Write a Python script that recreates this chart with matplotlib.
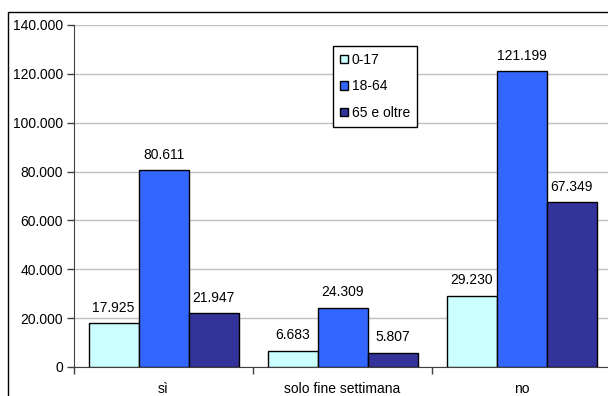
import matplotlib
matplotlib.use("Agg")
import matplotlib.pyplot as plt
from matplotlib.patches import Rectangle
import numpy as np

categories = ["sì", "solo fine settimana", "no"]
series_names = ["0-17", "18-64", "65 e oltre"]
values_0_17 = [17925, 6683, 29230]
values_18_64 = [80611, 24309, 121199]
values_65 = [21947, 5807, 67349]
series_colors = ["#CCFFFF", "#3366FF", "#333399"]
y_ticks = [0, 20000, 40000, 60000, 80000, 100000, 120000, 140000]


def fmt_it(v):
    return f"{v:,.0f}".replace(",", ".")


plt.rcParams["font.family"] = ["Liberation Sans", "DejaVu Sans"]
plt.rcParams["font.size"] = 10

W, H = 608, 396
fig = plt.figure(figsize=(W / 100, H / 100), dpi=100)

# outer chart-area frame (runs off the right and bottom edges)
fig.patches.append(Rectangle((8 / W, -0.5), 2.0, 1 - 12 / H + 0.5,
                             transform=fig.transFigure, fill=False,
                             edgecolor="black", linewidth=1.0, zorder=0))

ax = fig.add_axes([74 / W, 1 - 367 / H, (611 - 74) / W, (367 - 25) / H])

n = len(categories)
bar_w = 50 / 179
x = np.arange(n)
all_series = [values_0_17, values_18_64, values_65]
for i, (vals, name, col) in enumerate(zip(all_series, series_names, series_colors)):
    pos = x + (i - 1) * bar_w
    bars = ax.bar(pos, vals, width=bar_w, color=col, edgecolor="black",
                  linewidth=1.0, label=name, zorder=3)
    for b, v in zip(bars, vals):
        ax.annotate(fmt_it(v), (b.get_x() + b.get_width() / 2, v),
                    xytext=(0, 6), textcoords="offset points",
                    ha="center", va="bottom", fontsize=10)

ax.set_xlim(-0.5, n - 0.5)
ax.set_ylim(0, 140000)
ax.set_yticks(y_ticks)
ax.set_yticklabels([fmt_it(t) for t in y_ticks])
ax.yaxis.grid(True, color="#C0C0C0", linewidth=1.0, zorder=0)
ax.set_axisbelow(True)

ax.set_xticks(x)
ax.set_xticklabels(categories)
ax.set_xticks(np.arange(n + 1) - 0.5, minor=True)
ax.tick_params(axis="x", which="major", length=0, pad=11)
ax.tick_params(axis="x", which="minor", length=5, color="#404040", width=1)
ax.tick_params(axis="y", length=5, color="#404040", width=1, pad=3)

for s in ["top", "right"]:
    ax.spines[s].set_visible(False)
ax.spines["left"].set_color("#404040")
ax.spines["bottom"].set_color("#404040")

leg = fig.legend(loc="upper left", bbox_to_anchor=(333 / W, 1 - 46 / H),
                 frameon=True, fancybox=False, edgecolor="black",
                 framealpha=1, borderaxespad=0, handlelength=0.6,
                 handleheight=0.6, handletextpad=0.25, labelspacing=0.9,
                 borderpad=0.5, fontsize=10)
leg.get_frame().set_linewidth(1.0)

fig.savefig("out.png", dpi=100)
